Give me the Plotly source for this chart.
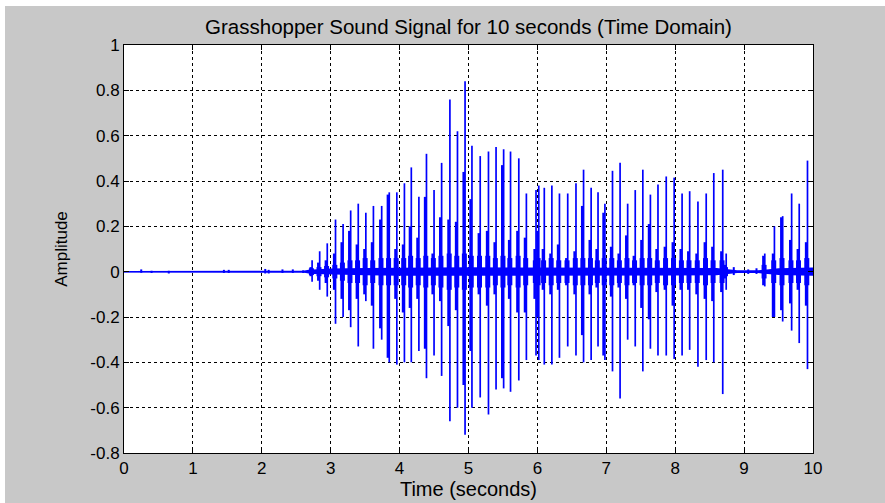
import plotly.graph_objects as go

# ---- data ----
# small blips before the calling starts (time s, positive peak, negative peak)
blip_t   = [0.25, 0.40, 0.65, 1.45, 1.52, 2.05, 2.10, 2.30, 2.45, 2.60, 8.85, 9.06, 9.18]
blip_pos = [0.010, 0.004, 0.004, 0.008, 0.008, 0.012, 0.008, 0.010, 0.010, 0.006, 0.020, 0.010, 0.015]
blip_neg = [-0.005, -0.006, -0.008, -0.006, -0.006, -0.008, -0.008, -0.006, -0.006, -0.006, -0.015, -0.010, -0.010]

# main chirp pulses
pulse_t = [2.73, 2.84, 2.95, 3.07, 3.18, 3.29, 3.40, 3.51, 3.62, 3.74, 3.85, 3.96,
           4.07, 4.17, 4.28, 4.39, 4.50, 4.61, 4.73, 4.84, 4.95, 5.05, 5.17, 5.29,
           5.40, 5.51, 5.61, 5.73, 5.84, 5.98, 6.02, 6.10, 6.21, 6.32, 6.44, 6.56,
           6.67, 6.78, 6.88, 6.98, 7.09, 7.20, 7.31, 7.42, 7.53, 7.64, 7.75, 7.87,
           7.985, 8.10, 8.21, 8.33, 8.45, 8.56, 8.69, 8.74,
           9.30, 9.44, 9.56, 9.69, 9.80, 9.92]
pulse_pos = [0.05, 0.09, 0.125, 0.23, 0.21, 0.27, 0.30, 0.26, 0.29, 0.29, 0.35, 0.35,
             0.39, 0.46, 0.33, 0.52, 0.36, 0.48, 0.76, 0.62, 0.84, 0.555, 0.51, 0.53,
             0.55, 0.54, 0.53, 0.50, 0.345, 0.36, 0.38, 0.37, 0.38, 0.345, 0.345, 0.39,
             0.45, 0.37, 0.35, 0.30, 0.445, 0.48, 0.30, 0.36, 0.45, 0.34, 0.385, 0.42,
             0.415, 0.345, 0.355, 0.31, 0.345, 0.435, 0.45, 0.08,
             0.08, 0.20, 0.245, 0.345, 0.30, 0.49]
pulse_neg = [-0.045, -0.08, -0.11, -0.23, -0.20, -0.245, -0.33, -0.13, -0.34, -0.30, -0.40, -0.41,
             -0.40, -0.40, -0.35, -0.47, -0.37, -0.46, -0.66, -0.60, -0.72, -0.60, -0.555, -0.63,
             -0.52, -0.515, -0.53, -0.48, -0.39, -0.37, -0.39, -0.41, -0.41, -0.38, -0.33, -0.37,
             -0.40, -0.39, -0.33, -0.39, -0.44, -0.56, -0.30, -0.33, -0.44, -0.34, -0.37, -0.37,
             -0.385, -0.37, -0.345, -0.42, -0.39, -0.40, -0.54, -0.08,
             -0.065, -0.20, -0.22, -0.26, -0.315, -0.43]
# companion (secondary) spike inside each pulse
comp_pos = [0.02, 0.04, 0.05, 0.08, 0.13, 0.18, 0.12, 0.10, 0.13, 0.23, 0.34, 0.10,
            0.12, 0.20, 0.15, 0.33, 0.08, 0.24, 0.23, 0.22, 0.44, 0.32, 0.17, 0.18,
            0.13, 0.47, 0.14, 0.18, 0.15, 0.10, 0.18, 0.10, 0.08, 0.12, 0.06, 0.09,
            0.29, 0.14, 0.10, 0.26, 0.11, 0.08, 0.16, 0.07, 0.14, 0.21, 0.10, 0.11,
            0.13, 0.10, 0.09, 0.08, 0.13, 0.11, 0.09, 0.03,
            0.07, 0.08, 0.24, 0.14, 0.10, 0.13]
comp_neg = [-0.02, -0.04, -0.05, -0.08, -0.12, -0.17, -0.12, -0.10, -0.15, -0.25, -0.38, -0.12,
            -0.18, -0.16, -0.12, -0.34, -0.10, -0.13, -0.24, -0.17, -0.50, -0.35, -0.10, -0.15,
            -0.10, -0.47, -0.12, -0.18, -0.18, -0.12, -0.20, -0.08, -0.10, -0.08, -0.06, -0.10,
            -0.28, -0.10, -0.07, -0.37, -0.11, -0.07, -0.12, -0.06, -0.16, -0.21, -0.09, -0.08,
            -0.15, -0.08, -0.08, -0.10, -0.12, -0.13, -0.09, -0.03,
            -0.06, -0.20, -0.17, -0.14, -0.08, -0.15]
# thick low-level burst at the heart of each pulse (half height)
burst_half = [0.015, 0.02, 0.025, 0.03, 0.04, 0.05, 0.05, 0.06, 0.05, 0.06, 0.06, 0.06,
              0.06, 0.07, 0.06, 0.07, 0.06, 0.07, 0.08, 0.07, 0.08, 0.07, 0.07, 0.07,
              0.06, 0.07, 0.06, 0.07, 0.06, 0.05, 0.06, 0.05, 0.06, 0.05, 0.05, 0.06,
              0.06, 0.06, 0.05, 0.06, 0.06, 0.05, 0.06, 0.05, 0.06, 0.06, 0.05, 0.06,
              0.06, 0.05, 0.05, 0.05, 0.06, 0.05, 0.05, 0.02,
              0.03, 0.05, 0.06, 0.05, 0.05, 0.06]

# envelope of the dense low-level signal around zero
band_t    = [0.0, 2.60, 2.68, 2.75, 2.90, 3.00, 3.50, 4.00, 5.00, 6.00, 7.00, 8.00, 8.60, 8.80, 8.90, 9.20, 9.30, 9.50, 10.0]
band_half = [0.003, 0.004, 0.008, 0.010, 0.012, 0.014, 0.016, 0.018, 0.020, 0.018, 0.017, 0.017, 0.016, 0.010, 0.006, 0.006, 0.010, 0.015, 0.018]

x_ticks = [0, 1, 2, 3, 4, 5, 6, 7, 8, 9, 10]
y_ticks = [1, 0.8, 0.6, 0.4, 0.2, 0, -0.2, -0.4, -0.6, -0.8]
y_ticktext = ["1", "0.8", "0.6", "0.4", "0.2", "0", "-0.2", "-0.4", "-0.6", "-0.8"]

BLUE = "#0000ff"


def segments(ts, tops, bots, shift=0.0):
    xs, ys = [], []
    for t, a, b in zip(ts, tops, bots):
        xs += [t + shift, t + shift, None]
        ys += [b, a, None]
    return xs, ys


fig = go.Figure()

# dense band around zero
fig.add_trace(go.Scatter(
    x=band_t + band_t[::-1],
    y=band_half + [-h for h in band_half[::-1]],
    fill="toself", fillcolor=BLUE, line=dict(width=0), mode="lines",
    hoverinfo="skip", showlegend=False))

# baseline
fig.add_trace(go.Scatter(x=[band_t[0], band_t[-1]], y=[0, 0], mode="lines",
                         line=dict(color=BLUE, width=1.5), showlegend=False))

# thick bursts
ux, uy = segments(pulse_t, burst_half, [-h for h in burst_half], shift=-0.01)
fig.add_trace(go.Scatter(x=ux, y=uy, mode="lines", line=dict(color=BLUE, width=5),
                         showlegend=False))

# companion spikes (thicker)
cx, cy = segments(pulse_t, comp_pos, comp_neg, shift=-0.02)
fig.add_trace(go.Scatter(x=cx, y=cy, mode="lines", line=dict(color=BLUE, width=2.5),
                         showlegend=False))

# main spikes
mx, my = segments(pulse_t, pulse_pos, pulse_neg)
fig.add_trace(go.Scatter(x=mx, y=my, mode="lines", line=dict(color=BLUE, width=1.7),
                         showlegend=False))

# small blips
bx, by = segments(blip_t, blip_pos, blip_neg)
fig.add_trace(go.Scatter(x=bx, y=by, mode="lines", line=dict(color=BLUE, width=2),
                         showlegend=False))

FONT = "Liberation Sans, Arial, sans-serif"

axis_common = dict(
    showline=True, linecolor="black", linewidth=1, mirror="ticks",
    ticks="inside", ticklen=5, tickcolor="black", tickwidth=1,
    showgrid=True, gridcolor="black", gridwidth=1, griddash="3px,3px",
    zeroline=False, tickfont=dict(family=FONT, size=17, color="black"),
)

fig.update_xaxes(range=[0, 10], tickvals=x_ticks,
                 title=dict(text="Time (seconds)", font=dict(family=FONT, size=20, color="black"), standoff=0),
                 **axis_common)
fig.update_yaxes(range=[-0.8, 1], tickvals=y_ticks, ticktext=y_ticktext,
                 title=dict(text="Amplitude", font=dict(family=FONT, size=17, color="black"), standoff=18),
                 **axis_common)

fig.update_layout(
    width=885, height=503,
    margin=dict(l=124, r=72, t=45, b=50),
    paper_bgcolor="#c8c8c8", plot_bgcolor="white",
    title=dict(text="Grasshopper Sound Signal for 10 seconds (Time Domain)",
               x=(468.5 / 885), xanchor="center", y=1 - 27 / 503, yanchor="middle",
               font=dict(family=FONT, size=20.5, color="black")),
    showlegend=False,
    shapes=[
        dict(type="rect", xref="paper", yref="paper", x0=-0.2, x1=-0.1727, y0=-0.2, y1=1.2,
             fillcolor="white", line=dict(width=0), layer="above"),
        dict(type="rect", xref="paper", yref="paper", x0=-0.2, x1=1.2, y0=1.0956, y1=1.2,
             fillcolor="white", line=dict(width=0), layer="above"),
    ],
)

fig.write_html("out.html")
